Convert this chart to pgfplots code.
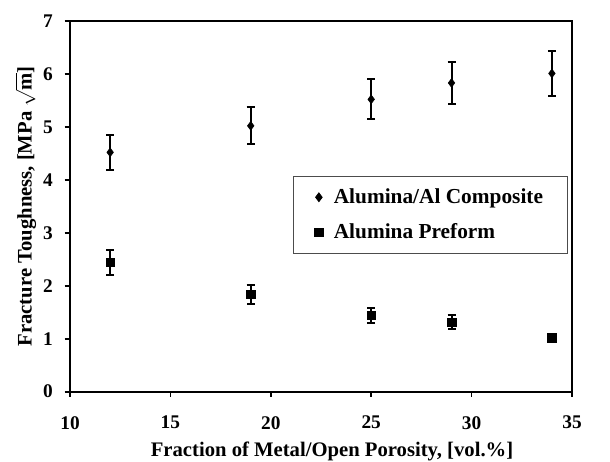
\documentclass[border=0pt]{standalone}
\usepackage{pgfplots}
\pgfplotsset{compat=1.18}
\usepackage{fontspec}
\setmainfont{Liberation Serif}
\begin{document}
\fontsize{15.5}{18}\selectfont\bfseries
\begin{tikzpicture}
\begin{axis}[
  width=376.5pt, height=278pt, scale only axis,
  xmin=10, xmax=35, ymin=0, ymax=7,
  xtick={10,15,20,25,30,35}, ytick={0,1,2,3,4,5,6,7},
  tick align=outside, xtick pos=bottom, ytick pos=left,
  major tick length=4pt,
  axis line style={line width=1.5pt},
  every tick/.style={line width=1.3pt, black},
  /pgf/number format/assume math mode=true,
  ticklabel style={font=\fontsize{14.5}{17}\selectfont\bfseries},
  yticklabel style={xshift=-3.5pt},
  xticklabel style={yshift=-9pt},
  xlabel={Fraction of Metal/Open Porosity, [vol.\%]},
  ylabel={Fracture Toughness, [MPa $\sqrt{\textbf{m}}$]},
  label style={font=\fontsize{15.5}{18}\selectfont\bfseries},
  every axis x label/.style={at={(axis description cs:0.522,-0.1617)}, anchor=center},
  every axis y label/.style={at={(axis description cs:-0.088,0.5)}, anchor=center, rotate=90, inner sep=0pt},
  legend style={at={(0.444,0.582)}, anchor=north west, draw=black!70, line width=0.6pt,
    font=\fontsize{16}{18}\selectfont\bfseries, inner xsep=16pt, inner ysep=7pt,
    row sep=9pt, column sep=6pt},
  legend cell align=left,
  error bars/error bar style={line width=1.5pt, black},
  error bars/error mark options={rotate=90, mark size=3pt, line width=1.5pt, black},
]
\addplot[only marks, mark=diamond*, mark size=3.3pt, black,
  error bars/.cd, y dir=both, y explicit]
  coordinates {
  (12,4.52) +- (0,0.33)
  (19,5.02) +- (0,0.35)
  (25,5.52) +- (0,0.38)
  (29,5.83) +- (0,0.40)
  (34,6.01) +- (0,0.42)
  };
\addlegendentry{Alumina/Al Composite}
\addplot[only marks, mark=square*, mark size=3.2pt, black,
  error bars/.cd, y dir=both, y explicit]
  coordinates {
  (12,2.44) +- (0,0.23)
  (19,1.84) +- (0,0.18)
  (25,1.44) +- (0,0.14)
  (29,1.31) +- (0,0.13)
  (34,1.02) +- (0,0.07)
  };
\addlegendentry{Alumina Preform}
\end{axis}
\pgfresetboundingbox
\path (current axis.south west) ++(-52.5pt,-52.5pt) coordinate (bbA);
\path (current axis.north east) ++(28.5pt,15.75pt) coordinate (bbB);
\path[use as bounding box] (bbA) rectangle (bbB);
\end{tikzpicture}
\end{document}
